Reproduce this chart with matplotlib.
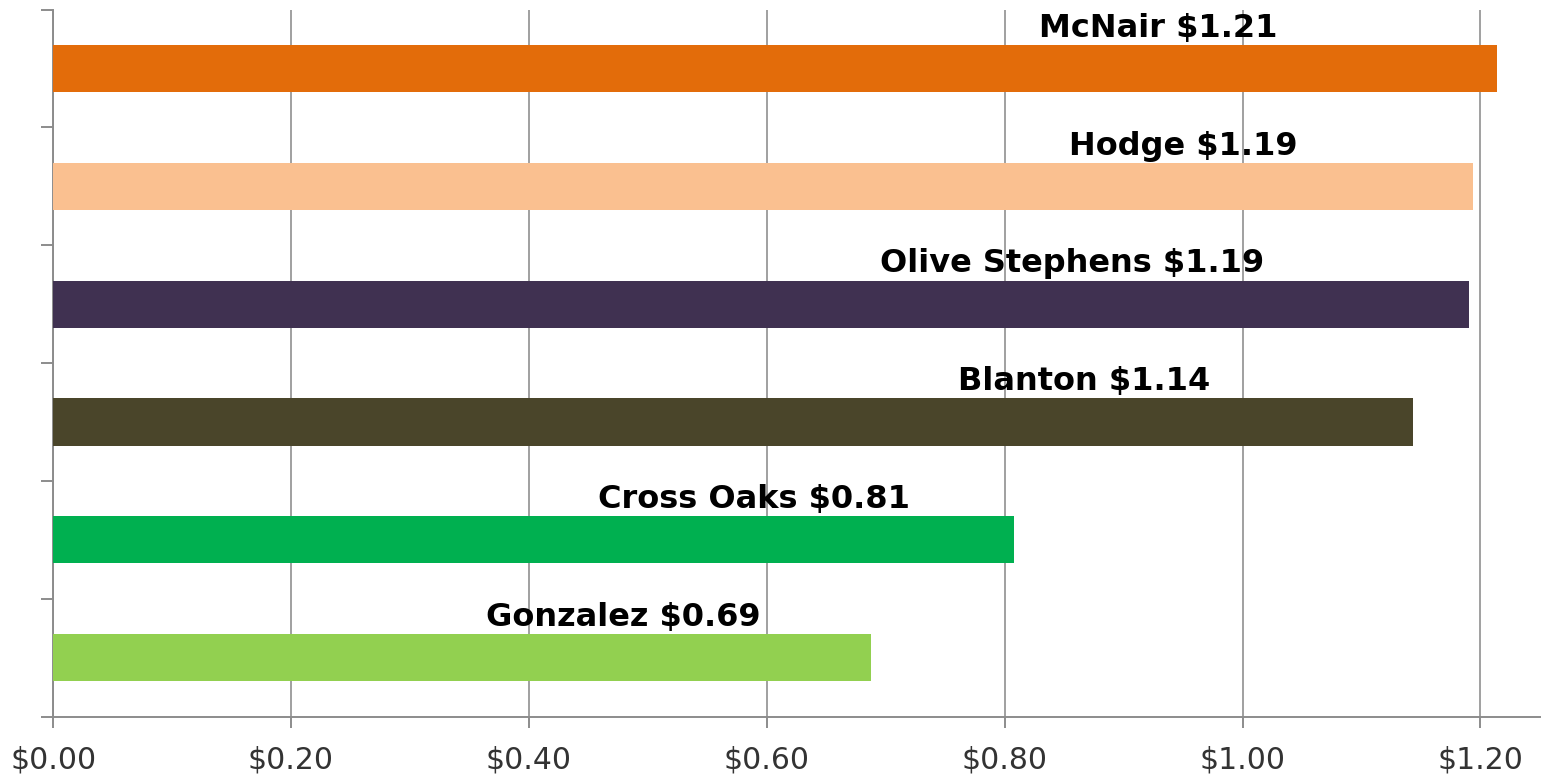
import matplotlib
matplotlib.use("Agg")
from matplotlib import pyplot as plt
from matplotlib.ticker import FuncFormatter
import numpy as np

# data, top to bottom
schools = ['McNair', 'Hodge', 'Olive Stephens', 'Blanton', 'Cross Oaks', 'Gonzalez']
cost = [1.214, 1.194, 1.190, 1.143, 0.808, 0.688]
cost_text = ['$1.21', '$1.19', '$1.19', '$1.14', '$0.81', '$0.69']
colors = ['#E36C0A', '#FAC090', '#403151', '#4A452A', '#00B050', '#92D050']

# where the labels sit (x, data units), they were moved by hand in the original
label_x = [0.929, 0.950, 0.857, 0.867, 0.589, 0.479]

fig = plt.figure(figsize=(15.43, 7.75), dpi=100)
ax = fig.add_axes([0.0344, 0.0752, 0.9636, 0.9125])

y = np.arange(len(schools))
ax.barh(y, cost, height=0.4, color=colors, zorder=3)

for i in range(len(schools)):
    ax.text(label_x[i], y[i] - 0.27, schools[i] + ' ' + cost_text[i],
            ha='center', va='baseline', fontsize=23, fontweight='bold',
            color='black', zorder=4)

ax.set_xlim(0, 1.25)
ax.set_ylim(len(schools) - 0.5, -0.5)
ax.set_xticks(np.arange(0, 1.21, 0.2))
ax.xaxis.set_major_formatter(FuncFormatter(lambda v, p: '${:.2f}'.format(v)))
ax.set_yticks(np.arange(-0.5, len(schools), 1.0))
ax.set_yticklabels([])

ax.grid(axis='x', color='#a0a0a0', linewidth=1.4, zorder=0)
ax.spines['top'].set_visible(False)
ax.spines['right'].set_visible(False)
for s in ['left', 'bottom']:
    ax.spines[s].set_color('#8c8c8c')
    ax.spines[s].set_linewidth(1.4)
ax.tick_params(axis='x', length=8, width=1.4, color='#8c8c8c', pad=13,
               labelsize=21.5, labelcolor='#333333')
ax.tick_params(axis='y', length=8.5, width=1.4, color='#8c8c8c')

plt.savefig('out.png', dpi=100)
